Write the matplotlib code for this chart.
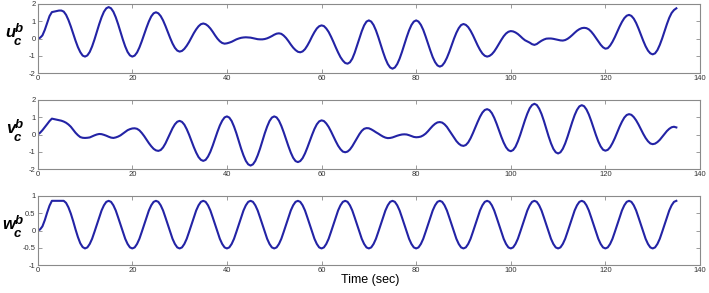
import numpy as np
import matplotlib
matplotlib.use("Agg")
import matplotlib.pyplot as plt

# time samples (sec), every 0.5 s
t = np.arange(0, 135.25, 0.5)

u_cb = [
    0.0, 0.04, 0.18, 0.5, 0.9, 1.3, 1.53, 1.56, 1.59, 1.62,
    1.62, 1.56, 1.37, 1.07, 0.70, 0.29, -0.13, -0.50, -0.79, -0.99,
    -1.05, -0.98, -0.78, -0.46, -0.06, 0.39, 0.83, 1.23, 1.55, 1.75,
    1.82, 1.75, 1.55, 1.23, 0.83, 0.39, -0.06, -0.46, -0.78, -0.98,
    -1.05, -0.99, -0.81, -0.52, -0.16, 0.24, 0.63, 0.99, 1.28, 1.46,
    1.52, 1.46, 1.30, 1.05, 0.73, 0.38, 0.03, -0.29, -0.54, -0.70,
    -0.76, -0.72, -0.60, -0.42, -0.20, 0.06, 0.31, 0.53, 0.71, 0.83,
    0.87, 0.83, 0.73, 0.58, 0.39, 0.18, -0.01, -0.16, -0.26, -0.30,
    -0.28, -0.24, -0.19, -0.12, -0.05, 0.0, 0.04, 0.06, 0.07, 0.06,
    0.05, 0.02, -0.01, -0.04, -0.05, -0.05, -0.03, 0.01, 0.07, 0.14,
    0.22, 0.28, 0.30, 0.27, 0.17, 0.03, -0.15, -0.35, -0.53, -0.67,
    -0.77, -0.80, -0.75, -0.62, -0.41, -0.16, 0.12, 0.37, 0.58, 0.71,
    0.76, 0.72, 0.58, 0.38, 0.11, -0.19, -0.51, -0.81, -1.08, -1.28,
    -1.42, -1.46, -1.38, -1.17, -0.83, -0.42, 0.01, 0.42, 0.76, 0.98,
    1.05, 0.98, 0.78, 0.47, 0.08, -0.35, -0.78, -1.17, -1.48, -1.68,
    -1.75, -1.68, -1.48, -1.17, -0.78, -0.35, 0.08, 0.47, 0.78, 0.98,
    1.05, 0.98, 0.79, 0.50, 0.12, -0.29, -0.70, -1.08, -1.37, -1.56,
    -1.63, -1.57, -1.39, -1.12, -0.78, -0.40, -0.01, 0.33, 0.60, 0.78,
    0.84, 0.79, 0.66, 0.45, 0.19, -0.11, -0.40, -0.66, -0.87, -1.00,
    -1.05, -1.01, -0.91, -0.75, -0.54, -0.31, -0.08, 0.13, 0.29, 0.39,
    0.43, 0.41, 0.35, 0.26, 0.14, 0.01, -0.10, -0.17, -0.24, -0.33,
    -0.37, -0.32, -0.22, -0.13, -0.06, -0.01, 0.0, 0.0, -0.02, -0.05,
    -0.08, -0.11, -0.12, -0.09, -0.02, 0.08, 0.20, 0.33, 0.45, 0.54,
    0.60, 0.62, 0.60, 0.53, 0.40, 0.23, 0.03, -0.17, -0.36, -0.51,
    -0.59, -0.56, -0.41, -0.19, 0.08, 0.39, 0.69, 0.96, 1.18, 1.32,
    1.37, 1.31, 1.15, 0.90, 0.58, 0.23, -0.13, -0.45, -0.70, -0.86,
    -0.92, -0.86, -0.67, -0.37, 0.0, 0.42, 0.83, 1.20, 1.48, 1.65,
    1.75]

v_cb = [
    0.0, 0.1, 0.25, 0.42, 0.6, 0.78, 0.92, 0.89, 0.86, 0.83,
    0.80, 0.75, 0.68, 0.58, 0.45, 0.28, 0.10, -0.04, -0.15, -0.19,
    -0.20, -0.19, -0.17, -0.11, -0.05, 0.0, 0.03, 0.02, -0.02, -0.07,
    -0.13, -0.18, -0.20, -0.17, -0.12, -0.05, 0.05, 0.15, 0.25, 0.31,
    0.35, 0.36, 0.33, 0.24, 0.09, -0.09, -0.30, -0.50, -0.68, -0.83,
    -0.92, -0.95, -0.90, -0.75, -0.52, -0.23, 0.07, 0.36, 0.59, 0.74,
    0.79, 0.73, 0.57, 0.31, -0.01, -0.37, -0.73, -1.05, -1.31, -1.47,
    -1.53, -1.47, -1.28, -1.00, -0.64, -0.24, 0.16, 0.52, 0.80, 0.99,
    1.05, 0.98, 0.78, 0.46, 0.07, -0.38, -0.82, -1.21, -1.53, -1.73,
    -1.80, -1.73, -1.53, -1.21, -0.82, -0.38, 0.07, 0.46, 0.78, 0.98,
    1.05, 0.99, 0.80, 0.50, 0.13, -0.28, -0.68, -1.05, -1.35, -1.54,
    -1.60, -1.54, -1.37, -1.10, -0.76, -0.39, -0.02, 0.32, 0.59, 0.76,
    0.82, 0.78, 0.64, 0.44, 0.18, -0.11, -0.39, -0.65, -0.85, -0.99,
    -1.03, -0.99, -0.87, -0.68, -0.45, -0.21, 0.02, 0.21, 0.33, 0.37,
    0.36, 0.30, 0.22, 0.13, 0.05, -0.04, -0.12, -0.18, -0.21, -0.20,
    -0.17, -0.12, -0.07, -0.03, 0.0, 0.01, 0.0, -0.04, -0.09, -0.14,
    -0.16, -0.15, -0.12, -0.05, 0.05, 0.19, 0.35, 0.50, 0.62, 0.70,
    0.72, 0.69, 0.59, 0.44, 0.24, 0.03, -0.18, -0.38, -0.53, -0.63,
    -0.66, -0.61, -0.46, -0.22, 0.08, 0.41, 0.73, 1.03, 1.27, 1.42,
    1.47, 1.41, 1.24, 0.97, 0.63, 0.25, -0.13, -0.47, -0.74, -0.91,
    -0.97, -0.90, -0.71, -0.40, -0.02, 0.41, 0.83, 1.21, 1.52, 1.71,
    1.78, 1.71, 1.50, 1.19, 0.79, 0.34, -0.11, -0.51, -0.83, -1.03,
    -1.10, -1.03, -0.83, -0.52, -0.13, 0.30, 0.73, 1.12, 1.43, 1.63,
    1.70, 1.64, 1.45, 1.16, 0.79, 0.38, -0.03, -0.40, -0.69, -0.88,
    -0.94, -0.89, -0.74, -0.50, -0.21, 0.12, 0.45, 0.74, 0.98, 1.13,
    1.18, 1.14, 1.01, 0.82, 0.58, 0.31, 0.04, -0.20, -0.39, -0.52,
    -0.56, -0.53, -0.44, -0.31, -0.14, 0.03, 0.20, 0.33, 0.42, 0.45,
    0.41]

w_cb = [
    0.0, 0.03, 0.12, 0.30, 0.52, 0.72, 0.86, 0.86, 0.86, 0.86,
    0.86, 0.86, 0.80, 0.67, 0.49, 0.27, 0.03, -0.19, -0.37, -0.48,
    -0.52, -0.49, -0.39, -0.24, -0.04, 0.17, 0.38, 0.58, 0.73, 0.83,
    0.86, 0.83, 0.73, 0.58, 0.38, 0.17, -0.04, -0.24, -0.39, -0.49,
    -0.52, -0.49, -0.39, -0.24, -0.04, 0.17, 0.38, 0.58, 0.73, 0.83,
    0.86, 0.83, 0.73, 0.58, 0.38, 0.17, -0.04, -0.24, -0.39, -0.49,
    -0.52, -0.49, -0.39, -0.24, -0.04, 0.17, 0.38, 0.58, 0.73, 0.83,
    0.86, 0.83, 0.73, 0.58, 0.38, 0.17, -0.04, -0.24, -0.39, -0.49,
    -0.52, -0.49, -0.39, -0.24, -0.04, 0.17, 0.38, 0.58, 0.73, 0.83,
    0.86, 0.83, 0.73, 0.58, 0.38, 0.17, -0.04, -0.24, -0.39, -0.49,
    -0.52, -0.49, -0.39, -0.24, -0.04, 0.17, 0.38, 0.58, 0.73, 0.83,
    0.86, 0.83, 0.73, 0.58, 0.38, 0.17, -0.04, -0.24, -0.39, -0.49,
    -0.52, -0.49, -0.39, -0.24, -0.04, 0.17, 0.38, 0.58, 0.73, 0.83,
    0.86, 0.83, 0.73, 0.58, 0.38, 0.17, -0.04, -0.24, -0.39, -0.49,
    -0.52, -0.49, -0.39, -0.24, -0.04, 0.17, 0.38, 0.58, 0.73, 0.83,
    0.86, 0.83, 0.73, 0.58, 0.38, 0.17, -0.04, -0.24, -0.39, -0.49,
    -0.52, -0.49, -0.39, -0.24, -0.04, 0.17, 0.38, 0.58, 0.73, 0.83,
    0.86, 0.83, 0.73, 0.58, 0.38, 0.17, -0.04, -0.24, -0.39, -0.49,
    -0.52, -0.49, -0.39, -0.24, -0.04, 0.17, 0.38, 0.58, 0.73, 0.83,
    0.86, 0.83, 0.73, 0.58, 0.38, 0.17, -0.04, -0.24, -0.39, -0.49,
    -0.52, -0.49, -0.39, -0.24, -0.04, 0.17, 0.38, 0.58, 0.73, 0.83,
    0.86, 0.83, 0.73, 0.58, 0.38, 0.17, -0.04, -0.24, -0.39, -0.49,
    -0.52, -0.49, -0.39, -0.24, -0.04, 0.17, 0.38, 0.58, 0.73, 0.83,
    0.86, 0.83, 0.73, 0.58, 0.38, 0.17, -0.04, -0.24, -0.39, -0.49,
    -0.52, -0.49, -0.39, -0.24, -0.04, 0.17, 0.38, 0.58, 0.73, 0.83,
    0.86, 0.83, 0.73, 0.58, 0.38, 0.17, -0.04, -0.24, -0.39, -0.49,
    -0.52, -0.49, -0.39, -0.24, -0.04, 0.17, 0.38, 0.58, 0.73, 0.83,
    0.86]

series = [u_cb, v_cb, w_cb]
letters = ["u", "v", "w"]
y_ticks = [[-2, -1, 0, 1, 2], [-2, -1, 0, 1, 2], [-1, -0.5, 0, 0.5, 1]]
y_ticklabels = [["-2", "-1", "0", "1", "2"], ["-2", "-1", "0", "1", "2"],
                ["-1", "-0.5", "0", "0.5", "1"]]
x_ticks = [0, 20, 40, 60, 80, 100, 120, 140]
x_label = "Time (sec)"

plt.rcParams["font.family"] = ["Liberation Sans", "DejaVu Sans"]

W, H = 709, 293
fig = plt.figure(figsize=(W / 100, H / 100), dpi=100)

left_px, right_px = 37.7, 700
tops = [4, 100, 196]
ax_h = 69
line_color = "#2323a5"
frame_color = "#8a8a8a"

for i, (ys, tp) in enumerate(zip(series, tops)):
    ax = fig.add_axes([left_px / W, 1 - (tp + ax_h) / H,
                       (right_px - left_px) / W, ax_h / H])
    ax.plot(t, ys, color=line_color, lw=1.5, solid_joinstyle="round")
    ax.set_xlim(0, 140)
    yt = y_ticks[i]
    ax.set_ylim(yt[0], yt[-1])
    ax.set_yticks(yt)
    ax.set_yticklabels(y_ticklabels[i])
    ax.set_xticks(x_ticks)
    ax.set_xticklabels([str(x) for x in x_ticks])
    ax.tick_params(direction="in", length=3, width=0.6, colors=frame_color,
                   labelcolor="#333333", labelsize=5.5, top=True, right=True,
                   pad=1.5)
    for sp in ax.spines.values():
        sp.set_color(frame_color)
        sp.set_linewidth(0.8)

    # y label: letter with superscript b and subscript c
    base = tp + 33
    fig.text(15.5 / W, 1 - base / H, letters[i], ha="right", va="baseline",
             fontsize=12, fontweight="bold", fontstyle="italic")
    fig.text(14.5 / W, 1 - (base - 5) / H, "b", ha="left", va="baseline",
             fontsize=9.5, fontweight="bold", fontstyle="italic")
    fig.text(14.0 / W, 1 - (base + 8) / H, "c", ha="left", va="baseline",
             fontsize=9.5, fontweight="bold", fontstyle="italic")

fig.text(370 / W, 1 - 280 / H, x_label, ha="center", va="center", fontsize=9)

fig.savefig("out.png", dpi=100)
